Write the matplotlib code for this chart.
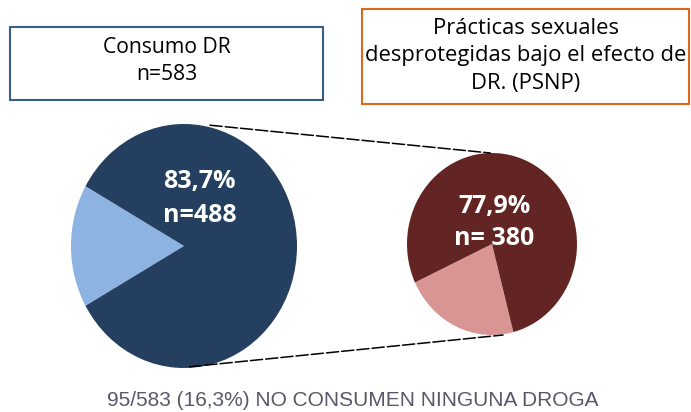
import matplotlib.pyplot as plt
from matplotlib.patches import ConnectionPatch

# datos
left_values = [16.3, 83.7]      # no consumen / consumen DR
left_colors = ['#8DB3E2', '#243F60']
right_values = [22.1, 77.9]     # sin PSNP / PSNP
right_colors = ['#D99594', '#632523']
left_label = '83,7%\nn=488'
right_label = '77,9%\nn= 380'
left_title = 'Consumo DR\nn=583'
right_title = 'Prácticas sexuales\ndesprotegidas bajo el efecto de\nDR. (PSNP)'
footer = '95/583 (16,3%) NO CONSUMEN NINGUNA DROGA'

W, H = 691, 412
fig = plt.figure(figsize=(W / 100, H / 100), dpi=100)


def px_axes(x0, y0, x1, y1):
    # ejes en coordenadas de pixel (origen arriba a la izquierda)
    return fig.add_axes([x0 / W, 1 - y1 / H, (x1 - x0) / W, (y1 - y0) / H])


# fondo con los cuadros de texto
ax_box = fig.add_axes([0, 0, 1, 1], zorder=-1)
ax_box.set_xlim(0, W)
ax_box.set_ylim(H, 0)
ax_box.axis('off')
ax_box.add_patch(plt.Rectangle((10, 27), 313, 73, fill=False, ec='#385D8A', lw=1.5))
ax_box.add_patch(plt.Rectangle((362, 9), 327, 95, fill=False, ec='#D9691E', lw=1.5))

# pastel izquierdo
ax_l = px_axes(71, 124, 297, 368)
ax_l.pie(left_values, colors=left_colors, startangle=180 - left_values[0] * 3.6 / 2,
         counterclock=True, radius=1, wedgeprops=dict(linewidth=0))
ax_l.set_aspect('auto')
ax_l.set_xlim(-1, 1)
ax_l.set_ylim(-1, 1)
ax_l.axis('off')
ax_l.text(0.14, 0.39, left_label, ha='center', va='center', color='white',
          fontsize=18, fontweight='bold', family='Open Sans', linespacing=1.5)

# pastel derecho
ax_r = px_axes(407, 153, 577, 335)
ax_r.pie(right_values, colors=right_colors, startangle=205,
         counterclock=True, radius=1, wedgeprops=dict(linewidth=0))
ax_r.set_aspect('auto')
ax_r.set_xlim(-1, 1)
ax_r.set_ylim(-1, 1)
ax_r.axis('off')
ax_r.text(0.03, 0.24, right_label, ha='center', va='center', color='white',
          fontsize=18, fontweight='bold', family='Open Sans', linespacing=1.36)

# lineas de conexion
for pl, pr in [((0.23, 0.99), (-0.02, 1.0)), ((0.05, -0.99), (0.13, -1.0))]:
    con = ConnectionPatch(xyA=pl, coordsA=ax_l.transData, xyB=pr, coordsB=ax_r.transData,
                          color='black', linewidth=1.1, linestyle=(0, (8, 2)))
    fig.add_artist(con)

# textos de los cuadros
fig.text(167 / W, 1 - 61 / H, left_title, ha='center', va='center', fontsize=15.2,
         family='Open Sans', linespacing=1.38)
fig.text(526 / W, 1 - 56 / H, right_title, ha='center', va='center', fontsize=15.8,
         family='Open Sans', linespacing=1.38)

fig.text(353 / W, 1 - 401 / H, footer, ha='center', va='center', fontsize=15,
         color='#58586A', family='Liberation Sans')

fig.savefig('out.png', dpi=100)
